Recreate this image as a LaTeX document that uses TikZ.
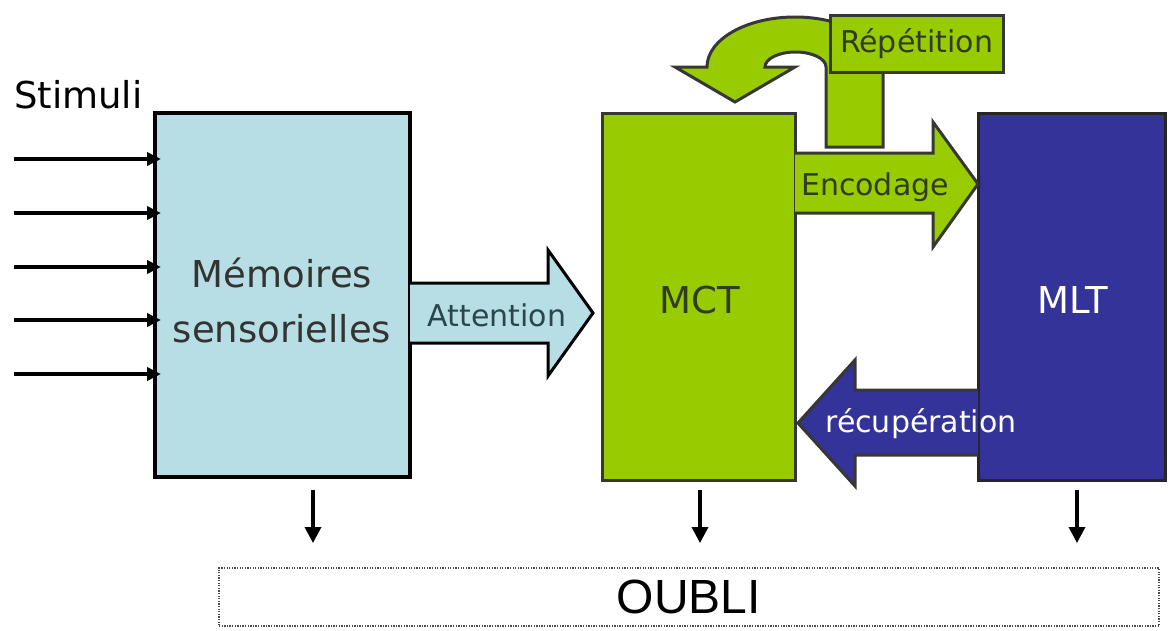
\documentclass[tikz,border=0pt]{standalone}
\usepackage{fontspec}
\setmainfont{DejaVu Sans}
\newfontfamily\oublifont{Liberation Sans}
\usetikzlibrary{arrows.meta,positioning}

\definecolor{sensblue}{RGB}{183,222,228}
\definecolor{mctgreen}{RGB}{153,204,0}
\definecolor{mltblue}{RGB}{51,51,153}
\definecolor{edgegray}{RGB}{55,55,55}
\definecolor{greentext}{RGB}{48,60,32}
\definecolor{bluetext}{RGB}{40,70,75}

\tikzset{
  membox/.style={draw, line width=#1, inner sep=0pt},
  greenshape/.style={fill=mctgreen, draw=edgegray, line width=3pt, line join=miter},
  blueshape/.style={fill=mltblue, draw=edgegray, line width=3pt, line join=miter},
  lightshape/.style={fill=sensblue, draw=black, line width=3pt, line join=miter},
  biglabel/.style={font=\fontsize{37}{55}\selectfont, align=center},
  arrowlabel/.style={font=\fontsize{30}{36}\selectfont},
  stimarrow/.style={line width=4pt, -{Triangle[length=14pt,width=13pt]}},
  forget/.style={line width=3.5pt, -{Triangle[length=16pt,width=16pt]}}
}

\begin{document}
\begin{tikzpicture}[x=1pt, y=-1pt]
  \useasboundingbox (0,0) rectangle (1170,630);

  % the three stores
  \node[membox=4pt, fill=sensblue, draw=black, minimum width=255pt, minimum height=364pt] (sm) at (282.5,295) {};
  \node[membox=3pt, fill=mctgreen, draw=edgegray, minimum width=193pt, minimum height=367pt] (mct) at (698.5,296.5) {};
  \node[membox=3pt, fill=mltblue, draw=black!85, minimum width=187pt, minimum height=367pt] (mlt) at (1071.5,296.5) {};

  \node[biglabel, text=black!80] (smtext) at (282,300) {Mémoires\\sensorielles};
  \node[biglabel, text=greentext] (mcttext) at (700,300) {MCT};
  \node[biglabel, text=white] (mlttext) at (1073,300) {MLT};

  % incoming stimuli
  \node[biglabel, anchor=base west, inner sep=0pt] (stimuli) at (14,108) {Stimuli};
  \foreach \y [count=\i] in {159,213,267,320,374}{
    \coordinate (s\i) at (14,\y);
    \draw[stimarrow, shorten >=-8pt] (s\i) -- (s\i -| sm.west);
  }

  % attention
  \filldraw[lightshape] (410,283) -- (548,283) -- (548,250) -- (593,313)
    -- (548,376) -- (548,343) -- (410,343);
  \node[arrowlabel, text=bluetext] (attention) at (497,315) {Attention};

  % encodage
  \filldraw[greenshape] (795,153) -- (933,153) -- (933,122) -- (978,184)
    -- (933,247) -- (933,213) -- (795,213);
  \node[arrowlabel, text=greentext] (encodage) at (875,187) {Encodage};

  % recuperation
  \filldraw[blueshape] (978,390) -- (855,390) -- (855,360) -- (798,423)
    -- (855,486) -- (855,455) -- (978,455);
  \node[arrowlabel, text=white] (recup) at (921,424) {récupération};

  % repetition: u-turn arrow, label box on top
  \filldraw[greenshape] (826,147) -- (826,67)
    arc[start angle=0, end angle=180, x radius=30.5pt, y radius=15pt]
    -- (795,67) -- (735,102) -- (675,67) -- (707,67)
    arc[start angle=180, end angle=0, x radius=88pt, y radius=50pt]
    -- (883,147) -- cycle;
  \node[membox=3pt, fill=mctgreen, draw=edgegray, minimum width=173pt, minimum height=57pt,
        arrowlabel, text=greentext] (rep) at (916.5,43.5) {Répétition};

  % forgetting
  \node[draw=black!70, line width=1.3pt, dash pattern=on 1.3pt off 1.3pt,
        minimum width=940pt, minimum height=58pt, inner sep=0pt,
        font=\oublifont\fontsize{48}{50}\selectfont] (oubli) at (689,597) {OUBLI};
  \foreach \x in {313,700,1077}
    \draw[forget] (\x,490) -- (\x,543);
\end{tikzpicture}
\end{document}
